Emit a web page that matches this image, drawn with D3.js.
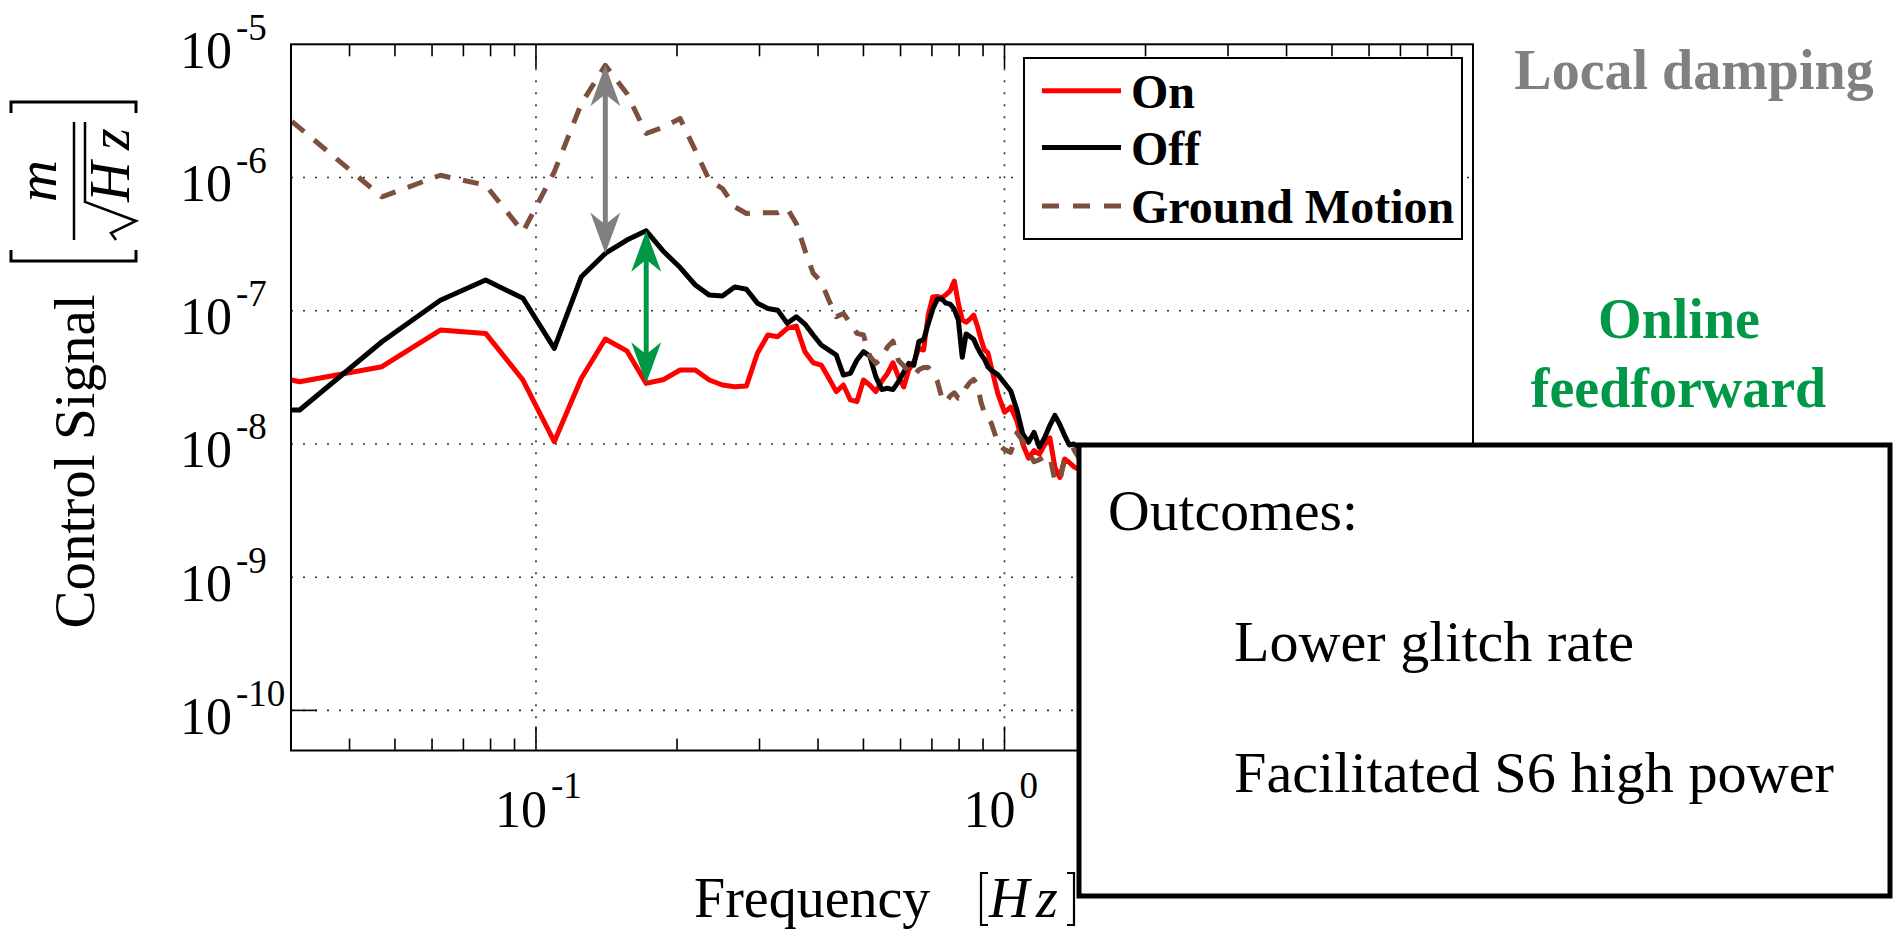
<!DOCTYPE html>
<html>
<head>
<meta charset="utf-8">
<script src="https://cdn.jsdelivr.net/npm/d3@7"></script>
<style>
  html, body { margin: 0; padding: 0; background: #fff; }
  svg { display: block; }
  svg text { font-family: "Liberation Serif", "Times New Roman", "DejaVu Serif", serif; fill: #000; }
</style>
</head>
<body>
<svg id="chart" width="1894" height="931" font-family="Liberation Serif, Times New Roman, DejaVu Serif, serif"></svg>
<script>
// Spectral bins (Hz), 1/64 Hz resolution
const freqHz = [
  0.0156, 0.0313, 0.0469, 0.0625, 0.0781, 0.0938, 0.1094, 0.125, 0.1406, 0.1563,
  0.1719, 0.1875, 0.2031, 0.2188, 0.2344, 0.25, 0.2656, 0.2813, 0.2969, 0.3125,
  0.3281, 0.3438, 0.3594, 0.375, 0.3906, 0.4063, 0.4219, 0.4375, 0.4531, 0.4688,
  0.4844, 0.5, 0.5156, 0.5313, 0.5469, 0.5625, 0.5781, 0.5938, 0.6094, 0.625,
  0.6406, 0.6563, 0.6719, 0.6875, 0.7031, 0.7188, 0.7344, 0.75, 0.7656, 0.7813,
  0.7969, 0.8125, 0.8281, 0.8438, 0.8594, 0.875, 0.8906, 0.9063, 0.9219, 0.9375,
  0.9688, 1.0, 1.0313, 1.0625, 1.0938, 1.125, 1.1563, 1.1875, 1.2188, 1.25,
  1.2813, 1.3125, 1.3438, 1.375, 1.4063, 1.4375, 1.5, 1.5625
];

// Control signal with online feedforward on  [m/sqrt(Hz)]
const onSignal = [
  5.0e-8, 2.93e-8, 3.80e-8, 7.16e-8, 6.76e-8, 3.02e-8, 1.04e-8, 3.11e-8, 6.13e-8, 5.0e-8,
  2.85e-8, 3.05e-8, 3.59e-8, 3.59e-8, 3.02e-8, 2.77e-8, 2.69e-8, 2.72e-8, 4.79e-8, 6.57e-8,
  6.38e-8, 7.37e-8, 7.67e-8, 4.93e-8, 4.07e-8, 3.91e-8, 3.11e-8, 2.47e-8, 2.77e-8, 2.14e-8,
  2.08e-8, 3.02e-8, 2.77e-8, 2.47e-8, 2.96e-8, 3.38e-8, 4.07e-8, 3.19e-8, 2.68e-8, 3.62e-8,
  4.14e-8, 5.22e-8, 5.07e-8, 9.33e-8, 1.27e-7, 1.28e-7, 1.25e-7, 1.32e-7, 1.41e-7, 1.67e-7,
  1.14e-7, 8.55e-8, 8.20e-8, 8.65e-8, 9.27e-8, 7.71e-8, 6.14e-8, 5.07e-8, 4.84e-8, 3.75e-8,
  2.36e-8, 1.73e-8, 1.89e-8, 1.50e-8, 1.00e-8, 7.83e-9, 8.91e-9, 8.39e-9, 9.89e-9, 1.11e-8,
  6.67e-9, 5.60e-9, 7.71e-9, 7.26e-9, 6.75e-9, 6.5e-9, 6.0e-9, 5.0e-9
];

// Control signal with online feedforward off
const offSignal = [
  1.80e-8, 1.80e-8, 5.85e-8, 1.20e-7, 1.70e-7, 1.24e-7, 5.22e-8, 1.80e-7, 2.69e-7, 3.39e-7,
  3.98e-7, 2.77e-7, 2.11e-7, 1.56e-7, 1.31e-7, 1.29e-7, 1.51e-7, 1.45e-7, 1.14e-7, 1.04e-7,
  1.01e-7, 8.04e-8, 9.02e-8, 7.94e-8, 6.57e-8, 5.53e-8, 5.07e-8, 4.65e-8, 3.29e-8, 3.39e-8,
  4.27e-8, 4.93e-8, 4.57e-8, 3.20e-8, 2.56e-8, 2.62e-8, 2.56e-8, 2.94e-8, 3.46e-8, 4.03e-8,
  3.91e-8, 5.86e-8, 6.07e-8, 7.98e-8, 1.03e-7, 1.22e-7, 1.23e-7, 1.14e-7, 1.12e-7, 1.03e-7,
  8.55e-8, 4.47e-8, 6.70e-8, 6.40e-8, 6.11e-8, 5.31e-8, 4.73e-8, 4.32e-8, 3.79e-8, 3.58e-8,
  3.30e-8, 2.87e-8, 2.50e-8, 1.81e-8, 1.19e-8, 1.03e-8, 1.22e-8, 9.44e-9, 1.12e-8, 1.38e-8,
  1.64e-8, 1.40e-8, 1.16e-8, 9.82e-9, 1.00e-8, 9.5e-9, 8.0e-9, 7.0e-9
];

// Ground motion
const groundMotion = [
  1.8e-5, 2.36e-6, 7.16e-7, 1.04e-6, 8.76e-7, 3.91e-7, 1.10e-6, 3.59e-6, 6.96e-6, 4.27e-6,
  2.14e-6, 2.40e-6, 2.77e-6, 1.60e-6, 9.55e-7, 8.27e-7, 6.03e-7, 5.37e-7, 5.43e-7, 5.43e-7,
  5.43e-7, 5.86e-7, 4.52e-7, 2.85e-7, 1.91e-7, 1.65e-7, 1.20e-7, 9.02e-8, 9.55e-8, 8.04e-8,
  6.76e-8, 6.57e-8, 4.57e-8, 4.03e-8, 4.39e-8, 5.35e-8, 5.90e-8, 4.24e-8, 3.86e-8, 3.48e-8,
  3.23e-8, 3.61e-8, 3.75e-8, 3.75e-8, 3.38e-8, 2.96e-8, 2.25e-8, 2.04e-8, 2.29e-8, 2.42e-8,
  2.20e-8, 2.25e-8, 2.65e-8, 2.90e-8, 3.05e-8, 2.81e-8, 2.07e-8, 1.71e-8, 1.55e-8, 1.43e-8,
  1.01e-8, 9.06e-9, 8.65e-9, 1.21e-8, 1.06e-8, 8.65e-9, 7.35e-9, 7.62e-9, 8.02e-9, 8.07e-9,
  5.28e-9, 5.28e-9, 7.71e-9, 8.65e-9, 9.06e-9, 8.0e-9, 6.0e-9, 5.0e-9
];

const xTickDecades = [0.1, 1];
const yTickDecades = [1e-10, 1e-9, 1e-8, 1e-7, 1e-6, 1e-5];
const legendLabels = ["On", "Off", "Ground Motion"];
const outcomeTitle = "Outcomes:";
const outcomeLines = ["Lower glitch rate", "Facilitated S6 high power"];

// Arrow bins: local damping (ground -> off), feedforward (off -> on)
const dampingBin = 8;
const feedforwardBin = 10;

const colors = { on: "#ff0000", off: "#000000", ground: "#7d4f3c", grey: "#808080", green: "#009846" };
const SERIF = "Liberation Serif, Times New Roman, DejaVu Serif, serif";

const svg = d3.select("#chart");
svg.append("rect").attr("width", 1894).attr("height", 931).attr("fill", "#fff");

// every label goes through this helper so the serif face is set on the element itself
function label(parent, txt, x0, y0, size, opts = {}) {
  const t = parent.append("text")
    .attr("x", x0).attr("y", y0)
    .attr("font-family", SERIF)
    .attr("font-size", size)
    .text(txt);
  if (opts.weight) t.attr("font-weight", opts.weight);
  if (opts.italic) t.attr("font-style", "italic");
  if (opts.anchor) t.attr("text-anchor", opts.anchor);
  if (opts.fill) t.style("fill", opts.fill);
  if (opts.width) t.attr("textLength", opts.width).attr("lengthAdjust", "spacingAndGlyphs");
  if (opts.transform) t.attr("transform", opts.transform);
  return t;
}

const plot = { left: 291, right: 1473, top: 44.3, bottom: 750.5 };
const x = d3.scaleLog().domain([0.03, 10]).range([plot.left, plot.right]);
const y = d3.scaleLog().domain([5e-11, 1e-5]).range([plot.bottom, plot.top]);

svg.append("defs").append("clipPath").attr("id", "plotClip")
  .append("rect")
  .attr("x", plot.left).attr("y", plot.top)
  .attr("width", plot.right - plot.left).attr("height", plot.bottom - plot.top);

// dotted grid
const grid = svg.append("g").attr("stroke", "#333").attr("stroke-width", 1.6)
  .attr("stroke-dasharray", "2,10");
yTickDecades.filter(v => v < 1e-5).forEach(v => {
  grid.append("line").attr("x1", plot.left).attr("x2", plot.right)
    .attr("y1", y(v)).attr("y2", y(v));
});
xTickDecades.forEach(v => {
  grid.append("line").attr("x1", x(v)).attr("x2", x(v))
    .attr("y1", plot.top).attr("y2", plot.bottom);
});

// spectra
const line = (vals) => d3.line()
  .x((d, i) => x(freqHz[i]))
  .y(d => y(d))(vals);

const curves = svg.append("g").attr("clip-path", "url(#plotClip)")
  .attr("fill", "none").attr("stroke-linejoin", "round");
curves.append("path").attr("d", line(onSignal))
  .attr("stroke", colors.on).attr("stroke-width", 5);
curves.append("path").attr("d", line(offSignal))
  .attr("stroke", colors.off).attr("stroke-width", 5);
curves.append("path").attr("d", line(groundMotion))
  .attr("stroke", colors.ground).attr("stroke-width", 5)
  .attr("stroke-dasharray", "16,13");

// double-headed arrows between curves
function doubleArrow(fx, vTop, vBot, color) {
  const ax = x(fx), y0 = y(vTop), y1 = y(vBot);
  const headLen = 41, headHalf = 15, notch = 29;
  const g = svg.append("g");
  g.append("line").attr("x1", ax).attr("x2", ax)
    .attr("y1", y0 + notch - 2).attr("y2", y1 - notch + 2)
    .attr("stroke", color).attr("stroke-width", 5);
  g.append("path").attr("fill", color)
    .attr("d", `M${ax},${y0} L${ax + headHalf},${y0 + headLen} L${ax},${y0 + notch} L${ax - headHalf},${y0 + headLen} Z`);
  g.append("path").attr("fill", color)
    .attr("d", `M${ax},${y1} L${ax + headHalf},${y1 - headLen} L${ax},${y1 - notch} L${ax - headHalf},${y1 - headLen} Z`);
}
doubleArrow(freqHz[dampingBin], groundMotion[dampingBin], offSignal[dampingBin], colors.grey);
doubleArrow(freqHz[feedforwardBin], offSignal[feedforwardBin], onSignal[feedforwardBin], colors.green);

// axes box
svg.append("rect")
  .attr("x", plot.left).attr("y", plot.top)
  .attr("width", plot.right - plot.left).attr("height", plot.bottom - plot.top)
  .attr("fill", "none").attr("stroke", "#000").attr("stroke-width", 2);

// inward ticks on top and bottom
const ticks = x.ticks().filter(t => t > 0.03 && t < 10);
const tg = svg.append("g").attr("stroke", "#000").attr("stroke-width", 1.6);
ticks.forEach(t => {
  const major = Math.abs(Math.log10(t) - Math.round(Math.log10(t))) < 1e-9;
  const len = major ? 24 : 12;
  tg.append("line").attr("x1", x(t)).attr("x2", x(t))
    .attr("y1", plot.top).attr("y2", plot.top + len);
  tg.append("line").attr("x1", x(t)).attr("x2", x(t))
    .attr("y1", plot.bottom).attr("y2", plot.bottom - len);
});
tg.append("line").attr("x1", plot.left).attr("x2", plot.left + 26)
  .attr("y1", y(1e-10)).attr("y2", y(1e-10));

// tick labels: 10 with a raised exponent
yTickDecades.forEach(v => {
  const t = label(svg, "10", 180, y(v) + 23.5, 52);
  t.append("tspan").attr("dx", 4).attr("dy", -28).attr("font-size", 37)
    .text(String(Math.round(Math.log10(v))));
});
xTickDecades.forEach(v => {
  const t = label(svg, "10", x(v) - 41, 827, 52);
  t.append("tspan").attr("dx", 4).attr("dy", -29).attr("font-size", 37)
    .text(String(Math.round(Math.log10(v))));
});

// x axis title
label(svg, "Frequency", 694, 916.7, 56);
const hz = svg.append("g");
hz.append("path").attr("d", "M988,873 L981,873 L981,925 L988,925")
  .attr("fill", "none").attr("stroke", "#000").attr("stroke-width", 2.2);
hz.append("path").attr("d", "M1067,873 L1074,873 L1074,925 L1067,925")
  .attr("fill", "none").attr("stroke", "#000").attr("stroke-width", 2.2);
label(hz, "H", 989, 916.7, 56, { italic: true });
label(hz, "z", 1036, 916.7, 56, { italic: true });

// y axis title
label(svg, "Control Signal", 0, 0, 57, { anchor: "middle", transform: "translate(94,461.5) rotate(-90)" });

// unit [m / sqrt(Hz)], drawn in a rotated frame
const unit = svg.append("g").attr("transform", "translate(0,262) rotate(-90)");
unit.append("path").attr("d", "M12,11 L1,11 L1,136 L12,136")
  .attr("fill", "none").attr("stroke", "#000").attr("stroke-width", 3);
unit.append("path").attr("d", "M149,11 L160,11 L160,136 L149,136")
  .attr("fill", "none").attr("stroke", "#000").attr("stroke-width", 3);
unit.append("line").attr("x1", 22).attr("x2", 140).attr("y1", 74).attr("y2", 74)
  .attr("stroke", "#000").attr("stroke-width", 2.5);
label(unit, "m", 81, 56, 58, { italic: true, anchor: "middle" });
unit.append("path").attr("d", "M22,116 L29,111 L41,136 L60,85 L140,85")
  .attr("fill", "none").attr("stroke", "#000").attr("stroke-width", 2.5)
  .attr("stroke-linejoin", "miter");
label(unit, "H", 60, 129, 56, { italic: true });
label(unit, "z", 112, 129, 56, { italic: true });

// legend
const legend = svg.append("g");
legend.append("rect").attr("x", 1024).attr("y", 58).attr("width", 438).attr("height", 181)
  .attr("fill", "#fff").attr("stroke", "#000").attr("stroke-width", 2);
const legendStyles = [
  { color: colors.on, dash: null },
  { color: colors.off, dash: null },
  { color: colors.ground, dash: "17,14" }
];
const legendLineY = [90.7, 147.5, 206];
legendLabels.forEach((lab, i) => {
  const l = legend.append("line").attr("x1", 1042).attr("x2", 1121)
    .attr("y1", legendLineY[i]).attr("y2", legendLineY[i])
    .attr("stroke", legendStyles[i].color).attr("stroke-width", 5);
  if (legendStyles[i].dash) l.attr("stroke-dasharray", legendStyles[i].dash);
  label(legend, lab, 1131, legendLineY[i] + 17, 48, { weight: "bold" });
});

// side annotations
label(svg, "Local damping", 1694, 89, 56, { weight: "bold", anchor: "middle", fill: colors.grey });
label(svg, "Online", 1679, 338, 56, { weight: "bold", anchor: "middle", fill: colors.green });
label(svg, "feedforward", 1678.5, 407, 56, { weight: "bold", anchor: "middle", fill: colors.green });

// outcomes panel
const box = svg.append("g");
box.append("rect").attr("x", 1079).attr("y", 445).attr("width", 811).attr("height", 451)
  .attr("fill", "#fff").attr("stroke", "#000").attr("stroke-width", 5);
label(box, outcomeTitle, 1108, 530, 56, { width: 250 });
const outcomeY = [661, 791.5];
const outcomeW = [400, 600];
outcomeLines.forEach((s, i) => {
  label(box, s, 1234, outcomeY[i], 56, { width: outcomeW[i] });
});
</script>
</body>
</html>
